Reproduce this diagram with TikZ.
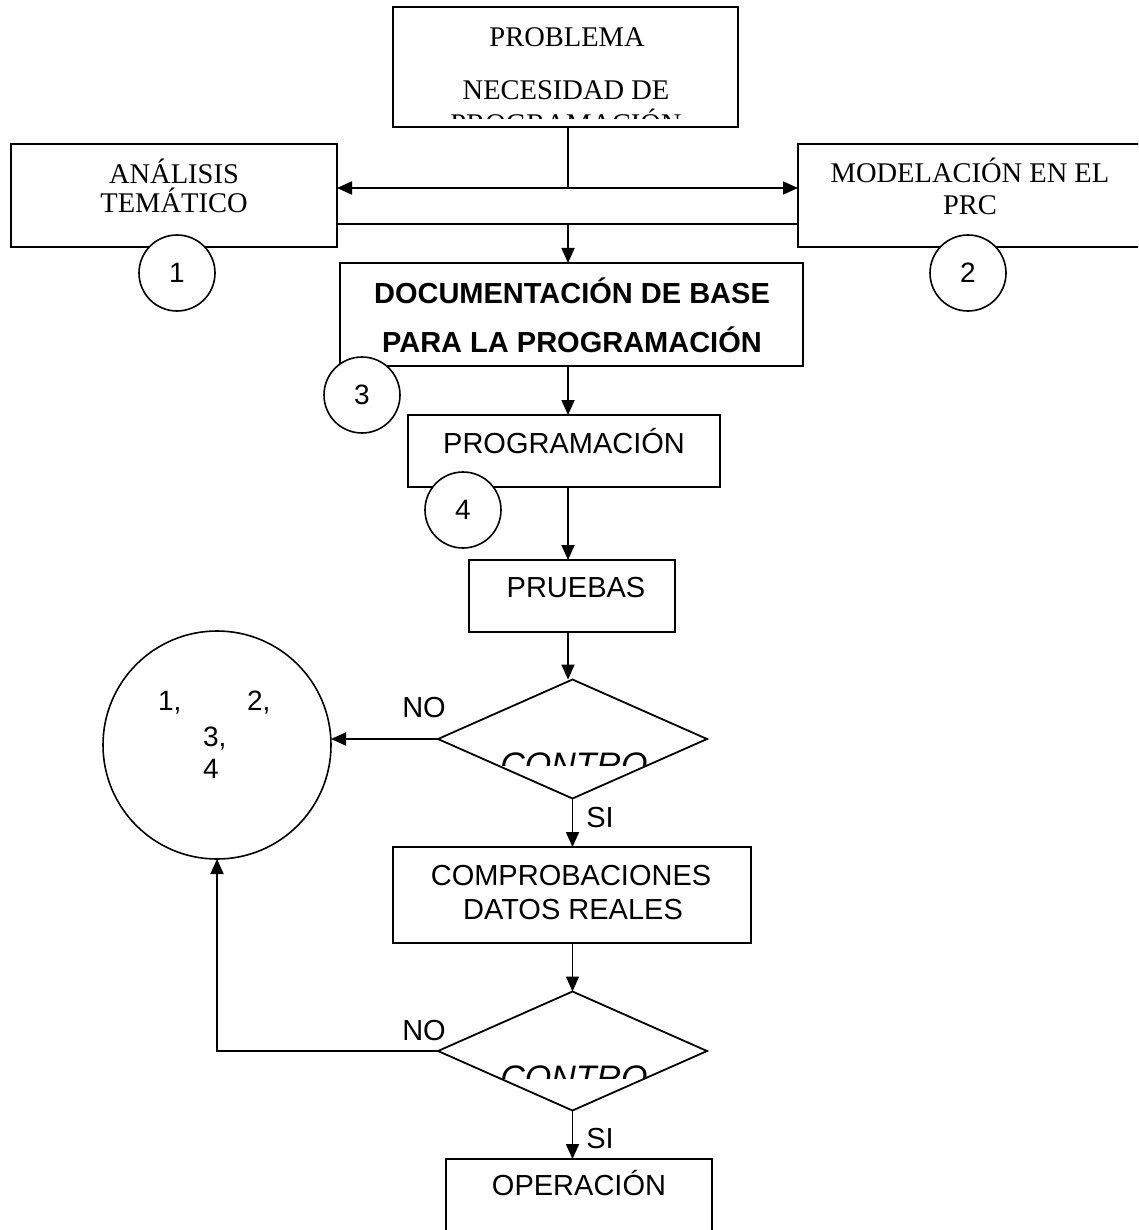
\documentclass[tikz,border=0pt]{standalone}
\usepackage{fontspec}
\setmainfont{Liberation Serif}
\setsansfont{Liberation Sans}
\usetikzlibrary{arrows.meta,shapes.geometric}

\newcommand\serfont{\rmfamily\fontsize{28.5}{34}\selectfont}
\newcommand\sanfont{\sffamily\fontsize{29}{34}\selectfont}
\newcommand\digfont{\sffamily\fontsize{28}{34}\selectfont}
\newcommand\ctrlfont{\sffamily\itshape\fontsize{34}{40}\selectfont}

\begin{document}
\begin{tikzpicture}[x=1pt,y=-1pt,
  every node/.style={inner sep=0pt,outer sep=0pt},
  box/.style={draw,rectangle,line width=1.8pt},
  decision/.style={draw,diamond,line width=1.8pt,minimum width=269pt,minimum height=119pt},
  ref/.style={draw,circle,fill=white,line width=1.6pt,minimum size=76pt,font=\digfont},
  conn/.style={line width=1.8pt},
  arr/.style={conn,-{Triangle[length=15pt,width=13pt]}},
  txt/.style={anchor=base}]

\useasboundingbox (0,0) rectangle (1138,1230);
\clip (0,0) rectangle (1138,1230);

% boxes
\node[box,minimum width=345pt,minimum height=120pt] (top) at (565.5,67) {};
\node[box,minimum width=326pt,minimum height=103pt] (left) at (174,195.5) {};
\node[box,minimum width=344pt,minimum height=103pt] (right) at (970,195.5) {};
\node[box,minimum width=463pt,minimum height=103pt] (doc) at (571.5,314.5) {};
\node[box,minimum width=312pt,minimum height=72pt] (prog) at (564,451) {};
\node[box,minimum width=206pt,minimum height=72pt] (prueb) at (572,596) {};
\node[decision] (d1) at (572.5,739) {};
\node[box,minimum width=358pt,minimum height=96pt] (comp) at (572,895) {};
\node[decision] (d2) at (572.5,1051) {};
\node[box,minimum width=266pt,minimum height=101pt] (op) at (579,1209.5) {};

% box texts
\begin{scope}
  \clip (394,8) rectangle (737,118.3);
  \node[txt,font=\serfont] (t1) at (567,47) {PROBLEMA};
  \node[txt,font=\serfont] (t2) at (566,100) {NECESIDAD DE};
  \node[txt,font=\serfont] (t3) at (566,134) {PROGRAMACIÓN};
\end{scope}
\node[txt,font=\serfont] (la1) at (174,184) {ANÁLISIS};
\node[txt,font=\serfont] (la2) at (174,213) {TEMÁTICO};
\node[txt,font=\serfont] (ra1) at (970,183) {MODELACIÓN EN EL};
\node[txt,font=\serfont] (ra2) at (970,215) {PRC};
\node[txt,font=\sanfont\bfseries] (da1) at (572,303) {DOCUMENTACIÓN DE BASE};
\node[txt,font=\sanfont\bfseries] (da2) at (572,352) {PARA LA PROGRAMACIÓN};
\node[txt,font=\sanfont] (pa) at (564,453) {PROGRAMACIÓN};
\node[txt,font=\sanfont] (pb) at (576,597) {PRUEBAS};
\node[txt,font=\sanfont] (ca1) at (571,885) {COMPROBACIONES};
\node[txt,font=\sanfont] (ca2) at (573,919) {DATOS REALES};
\node[txt,font=\sanfont] (oa) at (579,1195) {OPERACIÓN};
\begin{scope}
  \clip (490,700) rectangle (660,765);
  \node[txt,font=\ctrlfont] (k1) at (574,776) {CONTRO};
\end{scope}
\begin{scope}
  \clip (490,1010) rectangle (660,1078);
  \node[txt,font=\ctrlfont] (k2) at (574,1089) {CONTRO};
\end{scope}

% numbered references
\node[ref] (c1) at (177,273) {1};
\node[ref] (c2) at (968,273) {2};
\node[ref] (c3) at (362,395) {3};
\node[ref] (c4) at (463,510) {4};
\node[draw,circle,line width=1.6pt,minimum size=228pt] (big) at (217,745) {};
\node[anchor=base west,font=\digfont] (b1) at (158,710) {1,};
\node[anchor=base west,font=\digfont] (b2) at (247,710) {2,};
\node[anchor=base west,font=\digfont] (b3) at (203,746) {3,};
\node[anchor=base west,font=\digfont] (b4) at (203,778) {4};

% connectors
\coordinate (j1) at (568,188);
\coordinate (j2) at (568,224);
\draw[conn] (top.south -| j1) -- (j1);
\draw[arr] (j1) -- (j1 -| left.east);
\draw[arr] (j1) -- (j1 -| right.west);
\draw[conn] (j2 -| left.east) -- (j2 -| right.west);
\draw[arr] (j2) -- (j2 |- doc.north);
\draw[arr] (doc.south -| j1) -- (prog.north -| j1);
\draw[arr] (prog.south -| j1) -- (prueb.north -| j1);
\draw[arr] (prueb.south -| j1) -- (j1 |- d1.north);
\draw[arr] (d1.west) -- (d1.west -| big.east);
\draw[arr] (d1.south) -- (d1.south |- comp.north);
\draw[arr] (comp.south -| d2.north) -- (d2.north);
\draw[arr] (d2.south) -- (d2.south |- op.north);
\draw[arr] (d2.west) -- (d2.west -| big.south) -- (big.south);

% branch labels
\node[txt,font=\sanfont] (no1) at (424,717) {NO};
\node[txt,font=\sanfont] (si1) at (600,827) {SI};
\node[txt,font=\sanfont] (no2) at (424,1040) {NO};
\node[txt,font=\sanfont] (si2) at (600,1148) {SI};
\end{tikzpicture}
\end{document}
